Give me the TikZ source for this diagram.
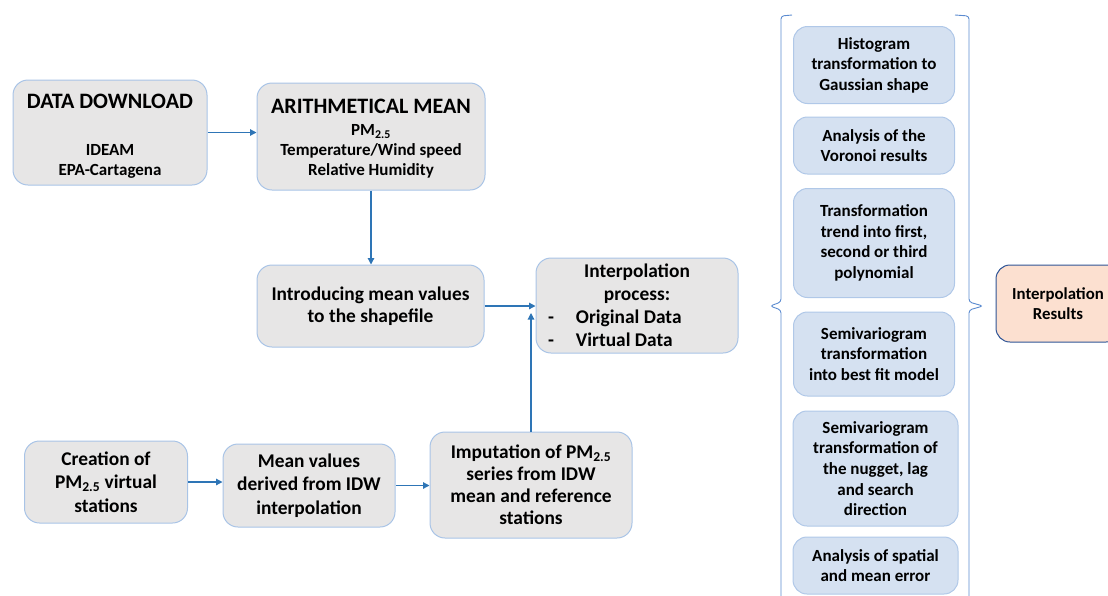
\documentclass[tikz,border=0pt]{standalone}
\usepackage{fontspec}
\setmainfont{Carlito}
\usetikzlibrary{arrows.meta}
\definecolor{grayfill}{HTML}{E7E6E6}
\definecolor{grayline}{HTML}{A9C4E6}
\definecolor{bluefill}{HTML}{D5E1F1}
\definecolor{blueline}{HTML}{B0C8E8}
\definecolor{resfill}{HTML}{FCE0D0}
\definecolor{resline}{HTML}{2F5597}
\definecolor{arrowblue}{HTML}{2E75B6}
\definecolor{bracecol}{HTML}{5B8BD0}
\tikzset{
  graybox/.style={draw=grayline, fill=grayfill, line width=1pt, rounded corners=15pt, align=center,
    font=\fontsize{19.4}{22.5}\selectfont\bfseries, inner sep=0pt},
  bluebox/.style={draw=blueline, fill=bluefill, line width=1pt, rounded corners=14pt, align=center,
    font=\fontsize{17}{20.6}\selectfont\bfseries, inner sep=0pt},
  resbox/.style={draw=resline, fill=resfill, line width=1pt, rounded corners=14pt, align=center,
    font=\fontsize{16.8}{20.6}\selectfont\bfseries, inner sep=0pt},
  conn/.style={draw=arrowblue, line width=1.2pt, -{Triangle[length=6.5pt,width=6.5pt]}},
  bracepath/.style={draw=bracecol, line width=0.9pt, rounded corners=3pt},
}
\begin{document}
\begin{tikzpicture}[x=1pt,y=-1pt]
\useasboundingbox (0,0) rectangle (1108,595);
% left flow
\node[graybox, minimum width=194pt, minimum height=105pt] (dd) at (110,132.5) {};
\node[font=\fontsize{22}{24}\selectfont\bfseries] (ddt) at (110,101) {DATA DOWNLOAD};
\node[font=\fontsize{17}{20}\selectfont\bfseries, align=center] (ddb) at (110,161) {IDEAM\\EPA-Cartagena};
\node[graybox, minimum width=228pt, minimum height=107pt] (am) at (371,136.5) {};
\node[font=\fontsize{22}{24}\selectfont\bfseries] (amt) at (371,106) {ARITHMETICAL MEAN};
\node[font=\fontsize{17}{20}\selectfont\bfseries, align=center] (amb) at (371,151.5) {PM\textsubscript{2.5}\\Temperature/Wind speed\\Relative Humidity};
\node[graybox, minimum width=227pt, minimum height=82pt, font=\fontsize{19.4}{22}\selectfont\bfseries] (intro) at (370.5,306) {Introducing mean values\\to the shapefile};
\node[graybox, minimum width=202pt, minimum height=95pt, font=\fontsize{19.4}{23}\selectfont\bfseries] (interp) at (637,305.5)
  {Interpolation\\process:\\\makebox[178pt][l]{-\hspace{22pt}Original Data}\\\makebox[178pt][l]{-\hspace{22pt}Virtual Data}};
\node[graybox, minimum width=163pt, minimum height=82pt, font=\fontsize{19.4}{23.5}\selectfont\bfseries] (creat) at (106,482) {Creation of\\PM\textsubscript{2.5} virtual\\stations};
\node[graybox, minimum width=172pt, minimum height=83pt, font=\fontsize{19.4}{23.3}\selectfont\bfseries] (meanv) at (309,485.5) {Mean values\\derived from IDW\\interpolation};
\node[graybox, minimum width=202pt, minimum height=106pt, font=\fontsize{19.4}{22}\selectfont\bfseries] (imput) at (531,485) {Imputation of PM\textsubscript{2.5}\\series from IDW\\mean and reference\\stations};
\coordinate (vt) at (531,313);
% connectors
\draw[conn] (dd.east) -- (dd.east -| am.west);
\draw[conn] (am.south) -- (am.south |- intro.north);
\draw[conn] (intro.east) -- (intro.east -| interp.west);
\draw[conn] (imput.north) -- (vt);
\draw[conn] (creat.east) -- (creat.east -| meanv.west);
\draw[conn] (meanv.east) -- (meanv.east -| imput.west);
% right column
\node[bluebox, minimum width=161pt, minimum height=77pt] (h1) at (874,65) {Histogram\\transformation to\\Gaussian shape};
\node[bluebox, minimum width=161pt, minimum height=57pt] (h2) at (874,145.5) {Analysis of the\\Voronoi results};
\node[bluebox, minimum width=161pt, minimum height=109pt] (h3) at (874,243) {Transformation\\trend into first,\\second or third\\polynomial};
\node[bluebox, minimum width=161pt, minimum height=84pt] (h4) at (874,354) {Semivariogram\\transformation\\into best fit model};
\node[bluebox, minimum width=165pt, minimum height=115pt] (h5) at (875.5,468.5) {Semivariogram\\transformation of\\the nugget, lag\\and search\\direction};
\node[bluebox, minimum width=165pt, minimum height=57pt] (h6) at (875.5,565.5) {Analysis of spatial\\and mean error};
\node[resbox, minimum width=124pt, minimum height=77pt] (res) at (1058,303.5) {Interpolation\\Results};
% braces
\coordinate (lbt) at (792,15);
\coordinate (lbtip) at (770,306);
\coordinate (rbt) at (955,15);
\coordinate (rbtip) at (983,306);
\draw[bracepath] (lbt) -- (781,16) -- (781,302) -- (lbtip) -- (781,310) -- (781,600);
\draw[bracepath] (rbt) -- (969,16) -- (969,302) -- (rbtip) -- (969,310) -- (969,600);
\end{tikzpicture}
\end{document}
